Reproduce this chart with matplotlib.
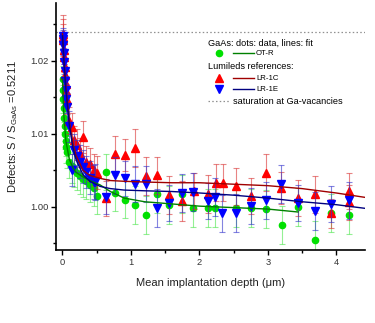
import numpy as np
import matplotlib
matplotlib.use("Agg")
import matplotlib.pyplot as plt
from matplotlib.ticker import MultipleLocator

plt.rcParams['font.family'] = ['Liberation Sans', 'DejaVu Sans']
plt.rcParams['mathtext.fontset'] = 'custom'
plt.rcParams['mathtext.rm'] = 'Liberation Sans'

# low-energy part (dense), shared depths in um
depth_low = [0.002, 0.005, 0.010, 0.016, 0.023, 0.031, 0.039, 0.048, 0.058, 0.069,
             0.099, 0.132, 0.169, 0.209, 0.253, 0.299, 0.348, 0.400, 0.455]

# LR-1C (red)
red_depth = depth_low + [0.51, 0.64, 0.77, 0.91, 1.06, 1.22, 1.38, 1.56, 1.74, 1.92, 2.13,
                         2.24, 2.34, 2.54, 2.75, 2.98, 3.20, 3.44, 3.69, 3.93, 4.18, 4.18]
red_s = [1.0237, 1.0233, 1.0228, 1.0215, 1.0205, 1.0192, 1.0180, 1.0168, 1.0158, 1.0146,
         1.0118, 1.0109, 1.0092, 1.0085, 1.0074, 1.0096, 1.0062, 1.0058, 1.0050,
         1.0047, 1.0012, 1.0073, 1.0071, 1.0080, 1.0042, 1.0043, 1.0016, 1.0008, 1.0022, 1.0018,
         1.0033, 1.0033, 1.0028, 1.0015, 1.0047, 1.0026, 1.0012, 1.0017, 0.9991, 1.0022, 1.0006]
red_err = [0.0025, 0.0024, 0.0022, 0.0020, 0.0020, 0.0019, 0.0020, 0.0018, 0.0020, 0.0019,
           0.0018, 0.0020, 0.0019, 0.0021, 0.0020, 0.0022, 0.0021, 0.0022, 0.0022,
           0.0022, 0.0024, 0.0024, 0.0022, 0.0026, 0.0026, 0.0025, 0.0026, 0.0027, 0.0025, 0.0026,
           0.0025, 0.0025, 0.0025, 0.0025, 0.0025, 0.0022, 0.0025, 0.0025, 0.0020, 0.0025, 0.0024]

# LR-1E (blue)
blue_depth = depth_low + [0.48, 0.64, 0.77, 0.91, 1.06, 1.22, 1.38, 1.56, 1.74, 1.91, 2.13,
                          2.23, 2.33, 2.54, 2.75, 2.98, 3.20, 3.44, 3.69, 3.93, 4.18]
blue_s = [1.0234, 1.0230, 1.0222, 1.0210, 1.0198, 1.0186, 1.0172, 1.0160, 1.0148, 1.0136,
          1.0110, 1.0050, 1.0078, 1.0070, 1.0062, 1.0055, 1.0048, 1.0040, 1.0034,
          1.0034, 1.0014, 1.0043, 1.0039, 1.0031, 1.0031, 0.9998, 1.0005, 1.0019, 1.0020, 1.0008,
          1.0013, 0.9991, 0.9992, 1.0001, 1.0009, 1.0031, 1.0005, 0.9994, 1.0004, 1.0009]
blue_err = [0.0010, 0.0012, 0.0014, 0.0015, 0.0016, 0.0018, 0.0018, 0.0019, 0.0020, 0.0020,
            0.0021, 0.0022, 0.0021, 0.0022, 0.0022, 0.0023, 0.0022, 0.0023, 0.0023,
            0.0024, 0.0024, 0.0025, 0.0024, 0.0025, 0.0025, 0.0026, 0.0025, 0.0026, 0.0026, 0.0025,
            0.0026, 0.0025, 0.0026, 0.0025, 0.0025, 0.0026, 0.0025, 0.0026, 0.0025, 0.0025]

# OT-R (green)
green_depth = depth_low + [0.51, 0.64, 0.77, 0.91, 1.06, 1.22, 1.38, 1.56, 1.74, 1.91, 2.13,
                           2.23, 2.54, 2.75, 2.98, 3.21, 3.44, 3.69, 3.93, 4.18]
green_s = [1.0175, 1.0160, 1.0148, 1.0135, 1.0122, 1.0110, 1.0100, 1.0090, 1.0082, 1.0075,
           1.0062, 1.0056, 1.0050, 1.0046, 1.0042, 1.0038, 1.0035, 1.0030, 1.0026,
           1.0015, 1.0048, 1.0019, 1.0010, 1.0002, 0.9989, 1.0017, 1.0003, 1.0018, 0.9999, 0.9999,
           0.9999, 0.9999, 0.9998, 0.9997, 0.9975, 1.0000, 0.9955, 0.9992, 0.9989]
green_err = [0.0018, 0.0018, 0.0019, 0.0019, 0.0020, 0.0020, 0.0021, 0.0021, 0.0022, 0.0022,
             0.0022, 0.0023, 0.0023, 0.0023, 0.0024, 0.0024, 0.0024, 0.0024, 0.0025,
             0.0025, 0.0025, 0.0025, 0.0025, 0.0026, 0.0026, 0.0025, 0.0026, 0.0026, 0.0026, 0.0026,
             0.0026, 0.0026, 0.0026, 0.0026, 0.0026, 0.0026, 0.0026, 0.0026, 0.0026]

# fit curves
fit_depth = [0, 0.02, 0.05, 0.1, 0.15, 0.2, 0.3, 0.4, 0.55, 0.7, 0.9, 1.2, 1.6, 2.0,
             2.5, 3.0, 3.5, 4.0, 4.42]
red_fit = [1.0237, 1.0205, 1.0165, 1.0118, 1.0088, 1.0070, 1.0050, 1.0043, 1.0039, 1.0036,
           1.0035, 1.0034, 1.0033, 1.0033, 1.0031, 1.0029, 1.0025, 1.0019, 1.0013]
blue_fit = [1.0234, 1.0200, 1.0160, 1.0112, 1.0082, 1.0064, 1.0044, 1.0035, 1.0028, 1.0025,
            1.0023, 1.0022, 1.0021, 1.0019, 1.0016, 1.0012, 1.0007, 1.0003, 0.9998]
green_fit_depth = [0, 0.02, 0.05, 0.1, 0.15, 0.2, 0.3, 0.4, 0.55, 0.7, 0.9, 1.2, 1.6, 2.0,
                   2.5, 3.0, 3.44]
green_fit = [1.0175, 1.0125, 1.0090, 1.0065, 1.0054, 1.0047, 1.0041, 1.0036, 1.0030, 1.0021,
             1.0012, 1.0007, 1.0004, 1.0001, 0.9999, 0.9997, 0.9993]

saturation = 1.0239

fig = plt.figure(figsize=(3.75, 3.23), dpi=100)
ax = fig.add_axes([0.1493, 0.226, 0.824, 0.765])

ax.axhline(saturation, color='#909090', ls=(0, (1.2, 1.8)), lw=0.9, zorder=1)

# data with error bars (green below, blue on top)
ax.errorbar(green_depth, green_s, yerr=green_err, fmt='o', ms=4.5, color='#00e000',
            mec='#00e000', ecolor=(0.3, 0.9, 0.3, 0.6), elinewidth=0.8, capsize=2,
            capthick=0.8, zorder=2)
ax.errorbar(red_depth, red_s, yerr=red_err, fmt='^', ms=5.8, color='#ff0000',
            mec='#ff0000', ecolor=(0.85, 0.2, 0.2, 0.6), elinewidth=0.8, capsize=2,
            capthick=0.8, zorder=3)
ax.errorbar(blue_depth, blue_s, yerr=blue_err, fmt='v', ms=5.8, color='#0000ff',
            mec='#0000ff', ecolor=(0.2, 0.2, 0.8, 0.6), elinewidth=0.8, capsize=2,
            capthick=0.8, zorder=4)

ax.plot(green_fit_depth, green_fit, color='#008000', lw=1.0, zorder=5)
ax.plot(fit_depth, red_fit, color='#a00000', lw=1.0, zorder=5)
ax.plot(fit_depth, blue_fit, color='#000080', lw=1.0, zorder=5)

ax.set_xlim(-0.095, 4.42)
ax.set_ylim(0.9941, 1.0279)
ax.xaxis.set_major_locator(MultipleLocator(1))
ax.xaxis.set_minor_locator(MultipleLocator(0.5))
ax.yaxis.set_major_locator(MultipleLocator(0.01))
ax.yaxis.set_minor_locator(MultipleLocator(0.005))
ax.yaxis.set_major_formatter(matplotlib.ticker.FormatStrFormatter('%.2f'))

for side in ['top', 'right']:
    ax.spines[side].set_visible(False)
for side in ['left', 'bottom']:
    ax.spines[side].set_linewidth(1.2)
ax.tick_params(which='major', direction='out', length=3.5, width=1, labelsize=6.7,
               labelcolor='#333333', pad=2)
ax.tick_params(which='minor', direction='out', length=2.5, width=1)

ax.set_xlabel('Mean implantation depth (\u03bcm)', fontsize=8, color='#222222', labelpad=8)
ax.set_ylabel(r'Defects: S / S$_{\rm GaAs}$ =0.5211', fontsize=8, color='#222222', labelpad=7)

# hand-made legend
tr = ax.transAxes
fs = 6.6
ax.text(0.492, 0.838, 'GaAs: dots: data, lines: fit', transform=tr, fontsize=fs, va='center')
ax.plot([0.527], [0.798], 'o', ms=4.5, color='#00e000', transform=tr, clip_on=False)
ax.plot([0.573, 0.641], [0.798, 0.798], color='#008000', lw=1, transform=tr)
ax.text(0.647, 0.796, 'OT-R', transform=tr, fontsize=5.6, va='center')
ax.text(0.492, 0.741, 'Lumileds references:', transform=tr, fontsize=fs, va='center')
ax.plot([0.527], [0.696], '^', ms=5.8, color='#ff0000', transform=tr)
ax.plot([0.573, 0.641], [0.696, 0.696], color='#a00000', lw=1, transform=tr)
ax.text(0.647, 0.694, 'LR-1C', transform=tr, fontsize=5.6, va='center')
ax.plot([0.527], [0.652], 'v', ms=5.8, color='#0000ff', transform=tr)
ax.plot([0.573, 0.641], [0.652, 0.652], color='#000080', lw=1, transform=tr)
ax.text(0.647, 0.650, 'LR-1E', transform=tr, fontsize=5.6, va='center')
ax.plot([0.492, 0.563], [0.603, 0.603], color='#909090', ls=(0, (1.2, 1.8)), lw=0.9,
        transform=tr)
ax.text(0.573, 0.603, 'saturation at Ga-vacancies', transform=tr, fontsize=fs, va='center')

fig.savefig('out.png', dpi=100)
